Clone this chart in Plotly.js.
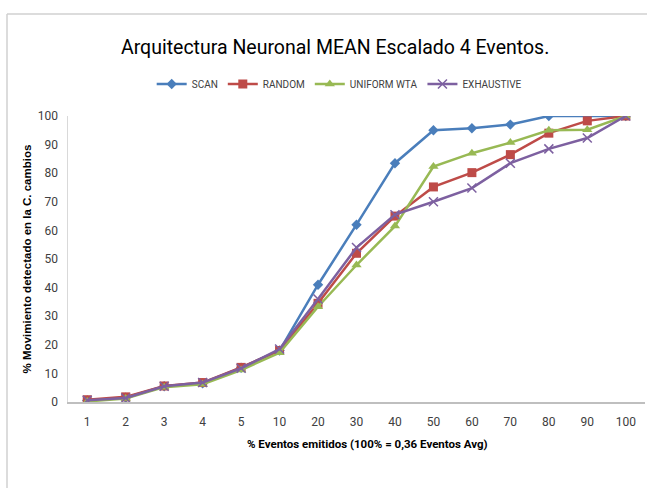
<!DOCTYPE html>
<html>
<head>
<meta charset="utf-8">
<script src="https://cdn.plot.ly/plotly-3.0.1.min.js"></script>
<style>html,body{margin:0;padding:0;background:#fff;}#chart{width:647px;height:488px;}</style>
</head>
<body>
<div id="chart"></div>
<script>
var categories = ["1","2","3","4","5","10","20","30","40","50","60","70","80","90","100"];
var scan       = [0.5, 1.5, 5.5, 6.5, 12, 18, 41, 62, 83.5, 95, 95.7, 97, 100, 100, 100];
var random     = [0.8, 1.8, 5.6, 6.8, 12.1, 18, 34.5, 52, 65, 75.2, 80.2, 86.5, 94, 98.3, 100];
var uniformWta = [0.2, 1.2, 5.2, 6.2, 11.2, 17.2, 33.3, 47.9, 61.5, 82.3, 87, 90.7, 95, 95.2, 100];
var exhaustive = [0.6, 1.4, 5.5, 6.8, 11.8, 18.5, 36, 54, 65.5, 70, 74.8, 83.5, 88.5, 92.3, 100];
var seriesNames = ["SCAN", "RANDOM", "UNIFORM WTA", "EXHAUSTIVE"];
var xTitle = "% Eventos emitidos (100% = 0,36 Eventos Avg)";
var yTitle = "% Movimiento detectado en la C. cambios";
var chartTitle = "Arquitectura Neuronal MEAN Escalado 4 Eventos.";

var FONT = "Roboto, 'Open Sans', sans-serif";
var colors = ["#4a7ebb", "#be4b48", "#98b954", "#7d60a0"];
var symbols = ["diamond", "square", "triangle-up", "x-thin"];
var sizes = [8, 9, 9, 9];
var data = [scan, random, uniformWta, exhaustive];

var traces = data.map(function (vals, i) {
  return {
    type: "scatter",
    mode: "lines+markers",
    name: seriesNames[i],
    x: categories,
    y: vals,
    line: {color: colors[i], width: 2.5},
    marker: {symbol: symbols[i], size: sizes[i], color: colors[i],
             line: {color: colors[i], width: i === 3 ? 1.5 : 0}}
  };
});

var bx = (7 - 68) / 577, by = (402 - 14) / 286;
var layout = {
  width: 647, height: 488,
  margin: {l: 68, r: 2, t: 116, b: 86},
  paper_bgcolor: "#ffffff", plot_bgcolor: "#ffffff",
  font: {family: FONT, color: "#404040", size: 12},
  title: {text: chartTitle,
          font: {family: FONT, size: 19.5, color: "#000000"},
          x: 0.518, xanchor: "center", y: 0.903, yanchor: "middle"},
  showlegend: true,
  legend: {orientation: "h", x: 0.47, xanchor: "center", y: 1.112, yanchor: "middle",
           font: {family: FONT, size: 10, color: "#404040"}, itemwidth: 30, tracegroupgap: 0},
  xaxis: {type: "category", range: [-0.5, 14.5], showgrid: false, zeroline: false,
          showline: true, linecolor: "#bfbfbf", linewidth: 1.5, ticklabelstandoff: 8,
          ticks: "", tickfont: {family: FONT, size: 12, color: "#404040"}},
  yaxis: {range: [0, 100], dtick: 10, showgrid: false, zeroline: false,
          showline: true, linecolor: "#d9d9d9", linewidth: 1.5, ticklabelstandoff: 6,
          ticks: "", tickfont: {family: FONT, size: 12, color: "#404040"},
          title: {text: "<b>" + yTitle + "</b>",
                  font: {family: "'Liberation Sans', Arial, sans-serif", size: 11.5, color: "#000000"}, standoff: 4}},
  annotations: [{text: "<b>" + xTitle + "</b>", xref: "paper", yref: "paper",
                 x: (367 - 68) / 577, y: -(444 - 402) / 286, xanchor: "center", yanchor: "middle",
                 showarrow: false, font: {family: FONT, size: 11.5, color: "#000000"}}],
  shapes: [
    {type: "line", xref: "paper", yref: "paper", x0: bx, x1: bx, y0: -0.4, y1: by,
     line: {color: "#d0d0d0", width: 1.5}, layer: "below"},
    {type: "line", xref: "paper", yref: "paper", x0: bx, x1: 1.0035, y0: by, y1: by,
     line: {color: "#d0d0d0", width: 1.5}, layer: "below"}
  ]
};

Plotly.newPlot("chart", traces, layout, {displayModeBar: false, staticPlot: true});
</script>
</body>
</html>
